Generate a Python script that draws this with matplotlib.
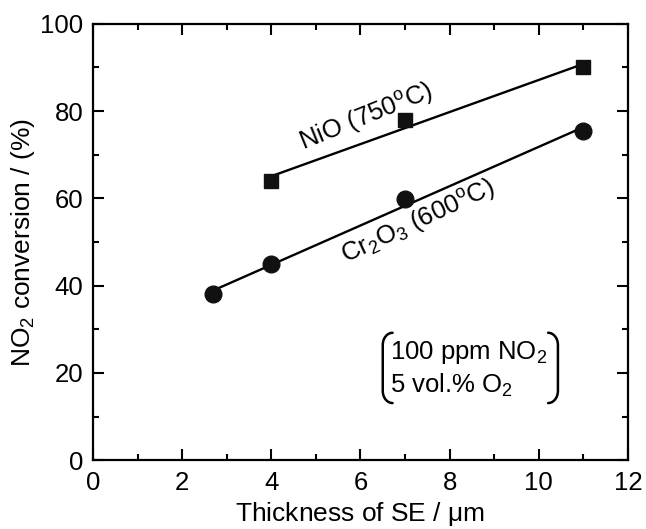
import numpy as np
import matplotlib
matplotlib.use("Agg")
import matplotlib.pyplot as plt
from matplotlib.ticker import MultipleLocator

plt.rcParams['font.family'] = ['Liberation Sans', 'DejaVu Sans']
plt.rcParams['mathtext.fontset'] = 'custom'
plt.rcParams['mathtext.rm'] = 'Liberation Sans'
plt.rcParams['mathtext.it'] = 'Liberation Sans'

# Data
nio_x = [4, 7, 11]
nio_y = [64, 78, 90]
cr_x = [2.7, 4, 7, 11]
cr_y = [38, 45, 59.8, 75.5]

fig = plt.figure(figsize=(6.46, 5.29), dpi=100)
ax = fig.add_axes([0.144, 0.130, 0.828, 0.825])

for xs, ys, m, ms in [(nio_x, nio_y, 's', 10.3), (cr_x, cr_y, 'o', 12)]:
    p = np.polyfit(xs, ys, 1)
    xl = np.array([min(xs), max(xs)])
    ax.plot(xl, np.polyval(p, xl), color='black', lw=1.7, zorder=2)
    ax.plot(xs, ys, m, color='#111111', ms=ms, zorder=3)

ax.set_xlim(0, 12)
ax.set_ylim(0, 100)
ax.xaxis.set_major_locator(MultipleLocator(2))
ax.xaxis.set_minor_locator(MultipleLocator(1))
ax.yaxis.set_major_locator(MultipleLocator(20))
ax.yaxis.set_minor_locator(MultipleLocator(10))
ax.tick_params(which='both', direction='in', top=True, right=True, width=1.5,
               labelsize=18.5)
ax.tick_params(axis='x', pad=8)
ax.tick_params(axis='y', pad=7)
ax.tick_params(which='major', length=8)
ax.tick_params(which='minor', length=4)
for s in ax.spines.values():
    s.set_linewidth(1.6)

ax.set_xlabel(r'Thickness of SE / $\mu$m', fontsize=19, labelpad=3)
ax.set_ylabel(r'NO$_2$ conversion / (%)', fontsize=19, labelpad=2)

ax.text(6.12, 78.6, r'NiO (750$^{\rm o}$C)', fontsize=18.5, rotation=22,
        ha='center', va='center', rotation_mode='anchor')
ax.text(7.3, 54.6, r'Cr$_2$O$_3$ (600$^{\rm o}$C)', fontsize=18.5, rotation=25,
        ha='center', va='center', rotation_mode='anchor')

ax.text(6.66, 24.6, r'100 ppm NO$_2$', fontsize=18.5, ha='left', va='center')
ax.text(6.66, 17.2, r'5 vol.% O$_2$', fontsize=18.5, ha='left', va='center')

# brackets
def bracket(x0, ytop, ybot, side):
    dx = 0.22 * side
    dy = 2.8
    t = np.linspace(0, np.pi / 2, 20)
    xs = np.concatenate([x0 + dx * (1 - np.sin(t)), [x0, x0], x0 + dx * (1 - np.cos(t))])
    ys = np.concatenate([ytop - dy + dy * np.cos(t), [ytop - dy, ybot + dy], ybot + dy - dy * np.sin(t)])
    ax.plot(xs, ys, color='black', lw=1.8, solid_capstyle='round')

bracket(6.50, 29.2, 13.1, 1)
bracket(10.43, 29.2, 13.1, -1)

fig.savefig('out.png', dpi=100)
